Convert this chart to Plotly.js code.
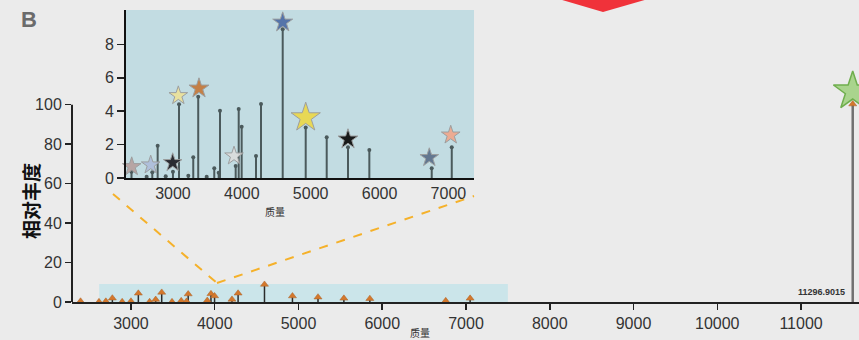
<!DOCTYPE html>
<html>
<head>
<meta charset="utf-8">
<script src="https://cdn.plot.ly/plotly-3.0.1.min.js"></script>
<style>html,body{margin:0;padding:0;background:#ebebeb;}#chart{width:859px;height:340px;}</style>
</head>
<body>
<div id="chart"></div>
<script>
// ---- data ----
const peakMass = [2398, 2618, 2700, 2778, 2895, 3000, 3088, 3223, 3295, 3367, 3490, 3600, 3664, 3683, 3911, 3955, 3998, 4206, 4279, 4594, 4928, 5233, 5542, 5852, 6758, 7049];
const peakIntensity = [0.38, 0.08, 0.34, 1.93, 0.1, 0.38, 4.41, 0.14, 1.24, 4.87, 0.08, 0.58, 0.32, 4.03, 0.72, 4.13, 3.07, 1.32, 4.43, 8.9, 3.02, 2.44, 1.84, 1.68, 0.58, 1.84];

const starMass = [2401, 2677, 2996, 3078, 3378, 3887, 4594, 4928, 5542, 6723, 7034];
const starIntensity = [0.68, 0.78, 0.92, 4.93, 5.37, 1.32, 9.32, 3.62, 2.32, 1.22, 2.57];

const mainPeakMass = [11617];
const mainPeakIntensity = [100.3];
const mainStarIntensity = [106.8];
const mainPeakLabel = ['11296.9015'];

const xTicksMain = [3000, 4000, 5000, 6000, 7000, 8000, 9000, 10000, 11000];
const yTicksMain = [0, 20, 40, 60, 80, 100];
const xTicksInset = [3000, 4000, 5000, 6000, 7000];
const yTicksInset = [0, 2, 4, 6, 8];
const xTitle = '质量';
const yTitle = '相对丰度';
const panelLabel = 'B';

// ---- styles ----
const starColors = ['#b7a19f', '#aebddb', '#1e1e24', '#ece29a', '#c5793a', '#dcdcdc', '#4b6ca6', '#ecd84a', '#0a0a0a', '#5b6f8a', '#f0a78c'];
const starSizes = [14, 14, 14, 14, 15, 14, 15, 22, 15, 14, 14];

function stems(xs, ys) {
  const sx = [], sy = [];
  xs.forEach((m, i) => { sx.push(m, m, null); sy.push(0, ys[i], null); });
  return {x: sx, y: sy};
}

const allMass = peakMass.concat(mainPeakMass);
const allInt = peakIntensity.concat(mainPeakIntensity);
const insetStem = stems(peakMass, peakIntensity);
const mainStem = stems(peakMass, peakIntensity);
const bigStem = stems(mainPeakMass, mainPeakIntensity);

const FONT = 'Liberation Sans, Arial, sans-serif';
const CJK = 'Noto Sans CJK SC, sans-serif';

const traces = [
  // inset
  {type: 'scatter', mode: 'lines', x: insetStem.x, y: insetStem.y, xaxis: 'x2', yaxis: 'y2',
   line: {color: '#4b5a5c', width: 2}, hoverinfo: 'skip', showlegend: false},
  {type: 'scatter', mode: 'markers', x: peakMass, y: peakIntensity, xaxis: 'x2', yaxis: 'y2',
   marker: {symbol: 'circle', size: 4, color: '#4b5a5c'}, showlegend: false},
  {type: 'scatter', mode: 'markers', x: starMass, y: starIntensity, xaxis: 'x2', yaxis: 'y2',
   marker: {symbol: 'star', size: starSizes, color: starColors, opacity: 0.92, line: {color: '#9a9a9a', width: 1}},
   cliponaxis: false, showlegend: false},
  // main
  {type: 'scatter', mode: 'lines', x: mainStem.x, y: mainStem.y, xaxis: 'x', yaxis: 'y',
   line: {color: '#2b2b2b', width: 1.5}, showlegend: false},
  {type: 'scatter', mode: 'lines', x: bigStem.x, y: bigStem.y, xaxis: 'x', yaxis: 'y',
   line: {color: '#707070', width: 2.5}, showlegend: false},
  {type: 'scatter', mode: 'markers', x: allMass, y: allInt, xaxis: 'x', yaxis: 'y',
   marker: {symbol: 'triangle-up', size: 7, color: '#d4782c', line: {color: '#a8632a', width: 0.5}}, showlegend: false},
  {type: 'scatter', mode: 'markers', x: mainPeakMass, y: mainStarIntensity, xaxis: 'x', yaxis: 'y',
   marker: {symbol: 'star', size: 29, color: '#a9d48d', line: {color: '#6fae4d', width: 1.5}},
   cliponaxis: false, showlegend: false}
];

const axisCommon = {showgrid: false, zeroline: false, tickcolor: '#222', tickfont: {family: FONT, size: 16, color: '#333'}};

const layout = {
  width: 859, height: 340,
  margin: {l: 72, r: 0, t: 10, b: 38},
  paper_bgcolor: '#ebebeb', plot_bgcolor: 'rgba(0,0,0,0)',
  showlegend: false,
  xaxis: Object.assign({}, axisCommon, {domain: [0, 1], anchor: 'y', range: [2296, 11692],
    tickvals: xTicksMain, ticktext: xTicksMain.map(String), ticks: 'outside', ticklen: 6, tickwidth: 1.5,
    showline: true, linecolor: '#222', linewidth: 2}),
  yaxis: Object.assign({}, axisCommon, {domain: [0, 0.7568], anchor: 'x', range: [0, 112],
    tickvals: yTicksMain, ticktext: yTicksMain.map(String), ticks: 'outside', ticklen: 6, tickwidth: 1.5,
    showline: false}),
  xaxis2: Object.assign({}, axisCommon, {domain: [0.0686, 0.5108], anchor: 'y2', range: [2318, 7372],
    tickvals: xTicksInset, ticktext: xTicksInset.map(String), ticks: '',
    showline: true, linecolor: '#111', linewidth: 2}),
  yaxis2: Object.assign({}, axisCommon, {domain: [0.4247, 1], anchor: 'x2', range: [0, 10.06],
    tickvals: yTicksInset, ticktext: yTicksInset.map(String), ticks: 'outside', ticklen: 7, tickwidth: 1.5,
    showline: true, linecolor: '#111', linewidth: 2}),
  shapes: [
    {type: 'rect', xref: 'x2 domain', yref: 'y2 domain', x0: 0, x1: 1, y0: 0, y1: 1,
     fillcolor: '#c2dce2', line: {width: 0}, layer: 'below'},
    {type: 'rect', xref: 'x', yref: 'y', x0: 2620, x1: 7500, y0: 0, y1: 9.1,
     fillcolor: '#cbe5ea', line: {width: 0}, layer: 'below'},
    {type: 'line', xref: 'paper', yref: 'y', x0: 0, x1: 0, y0: 0, y1: 100,
     line: {color: '#222', width: 2}},
    {type: 'line', xref: 'paper', yref: 'paper', x0: 0.0521, y0: 0.3699, x1: 0.1842, y1: 0.0651,
     line: {color: '#f5b12a', width: 2, dash: 'dash'}},
    {type: 'line', xref: 'paper', yref: 'paper', x0: 0.1842, y0: 0.0651, x1: 0.5108, y1: 0.363,
     line: {color: '#f5b12a', width: 2, dash: 'dash'}},
    {type: 'path', xref: 'paper', yref: 'paper', path: 'M 0.6099 1.0445 L 0.7408 1.0445 L 0.6747 0.9932 Z',
     fillcolor: '#f0323a', line: {width: 0}}
  ],
  annotations: [
    {xref: 'paper', yref: 'paper', x: -0.0546, y: 0.969, text: panelLabel, showarrow: false,
     xanchor: 'center', yanchor: 'middle', font: {family: FONT, size: 22, color: '#6b6b6b', weight: 'bold'}},
    {xref: 'paper', yref: 'paper', x: -0.0521, y: 0.3459, text: yTitle, showarrow: false, textangle: -90,
     xanchor: 'center', yanchor: 'middle', font: {family: CJK, size: 19, color: '#111', weight: 'bold'}},
    {xref: 'paper', yref: 'paper', x: 0.4422, y: -0.103, text: xTitle, showarrow: false,
     xanchor: 'center', yanchor: 'middle', font: {family: CJK, size: 10, color: '#333'}},
    {xref: 'paper', yref: 'paper', x: 0.258, y: 0.3116, text: xTitle, showarrow: false,
     xanchor: 'center', yanchor: 'middle', font: {family: CJK, size: 10, color: '#333'}},
    {xref: 'x', yref: 'y', x: mainPeakMass[0], y: 0, text: mainPeakLabel[0], showarrow: false,
     xanchor: 'right', yanchor: 'bottom', xshift: -6, yshift: 3,
     font: {family: FONT, size: 9, color: '#333', weight: 'bold'}}
  ]
};

Plotly.newPlot('chart', traces, layout, {displayModeBar: false, staticPlot: true});
</script>
</body>
</html>
